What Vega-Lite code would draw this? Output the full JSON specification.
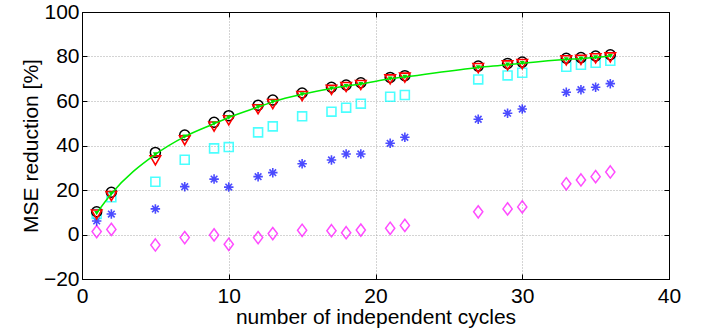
{
  "$schema": "https://vega.github.io/schema/vega-lite/v6.json",
  "width": 587,
  "height": 267,
  "autosize": {"type": "none"},
  "padding": {"left": 82, "top": 12, "right": 42, "bottom": 51},
  "background": "white",
  "config": {
    "view": {"stroke": "black", "strokeWidth": 1},
    "font": "Liberation Sans",
    "axis": {
      "domainColor": "black",
      "domainWidth": 1,
      "tickColor": "black",
      "tickSize": -5,
      "tickWidth": 1,
      "labelFontSize": 21,
      "labelColor": "black",
      "labelFont": "Liberation Sans",
      "labelFlush": false,
      "labelOverlap": false,
      "titleFont": "Liberation Sans",
      "titleFontSize": 21,
      "titleFontWeight": "normal",
      "titleColor": "black",
      "gridColor": "#a8a8a8",
      "gridDash": [1, 2],
      "gridWidth": 1
    }
  },
  "datasets": {
    "pts": [
      {"x":1,"s":"c","y":10.2},{"x":2,"s":"c","y":19},{"x":5,"s":"c","y":36.9},{"x":7,"s":"c","y":44.7},{"x":9,"s":"c","y":50.4},{"x":10,"s":"c","y":53.4},{"x":12,"s":"c","y":58.1},{"x":13,"s":"c","y":60.4},{"x":15,"s":"c","y":63.6},{"x":17,"s":"c","y":66.2},{"x":18,"s":"c","y":67.2},{"x":19,"s":"c","y":68.2},{"x":21,"s":"c","y":70.6},{"x":22,"s":"c","y":71.4},{"x":27,"s":"c","y":75.7},{"x":29,"s":"c","y":76.9},{"x":30,"s":"c","y":77.5},{"x":33,"s":"c","y":79.2},{"x":34,"s":"c","y":79.5},{"x":35,"s":"c","y":80.2},{"x":36,"s":"c","y":80.8},
      {"x":1,"s":"t","y":9},{"x":2,"s":"t","y":17.3},{"x":5,"s":"t","y":33.3},{"x":7,"s":"t","y":42.3},{"x":9,"s":"t","y":48.5},{"x":10,"s":"t","y":51.3},{"x":12,"s":"t","y":56.3},{"x":13,"s":"t","y":58.6},{"x":15,"s":"t","y":62.2},{"x":17,"s":"t","y":65},{"x":18,"s":"t","y":66.3},{"x":19,"s":"t","y":67.2},{"x":21,"s":"t","y":69.7},{"x":22,"s":"t","y":70.5},{"x":27,"s":"t","y":74.8},{"x":29,"s":"t","y":76},{"x":30,"s":"t","y":76.6},{"x":33,"s":"t","y":78.3},{"x":34,"s":"t","y":78.5},{"x":35,"s":"t","y":79.2},{"x":36,"s":"t","y":79.6},
      {"x":1,"s":"g","y":9.6},{"x":2,"s":"g","y":18.3},{"x":5,"s":"g","y":36},{"x":7,"s":"g","y":44},{"x":9,"s":"g","y":49.8},{"x":10,"s":"g","y":52.6},{"x":12,"s":"g","y":57.3},{"x":13,"s":"g","y":59.6},{"x":15,"s":"g","y":63},{"x":17,"s":"g","y":65.6},{"x":18,"s":"g","y":66.7},{"x":19,"s":"g","y":67.6},{"x":21,"s":"g","y":70},{"x":22,"s":"g","y":70.8},{"x":27,"s":"g","y":75.1},{"x":29,"s":"g","y":76.3},{"x":30,"s":"g","y":77},{"x":33,"s":"g","y":78.7},{"x":34,"s":"g","y":79},{"x":35,"s":"g","y":79.6},{"x":36,"s":"g","y":80.2},
      {"x":1,"s":"q","y":9.2},{"x":2,"s":"q","y":16.7},{"x":5,"s":"q","y":23.7},{"x":7,"s":"q","y":33.6},{"x":9,"s":"q","y":38.7},{"x":10,"s":"q","y":39.3},{"x":12,"s":"q","y":45.9},{"x":13,"s":"q","y":48.6},{"x":15,"s":"q","y":53.1},{"x":17,"s":"q","y":55.2},{"x":18,"s":"q","y":57},{"x":19,"s":"q","y":58.8},{"x":21,"s":"q","y":61.9},{"x":22,"s":"q","y":62.7},{"x":27,"s":"q","y":69.7},{"x":29,"s":"q","y":71.5},{"x":30,"s":"q","y":72.7},{"x":33,"s":"q","y":75.4},{"x":34,"s":"q","y":76.3},{"x":35,"s":"q","y":77.2},{"x":36,"s":"q","y":78.1},
      {"x":1,"s":"a","y":6.1},{"x":2,"s":"a","y":9.2},{"x":5,"s":"a","y":11.5},{"x":7,"s":"a","y":21.5},{"x":9,"s":"a","y":24.9},{"x":10,"s":"a","y":21.3},{"x":12,"s":"a","y":26},{"x":13,"s":"a","y":27.8},{"x":15,"s":"a","y":31.8},{"x":17,"s":"a","y":33.5},{"x":18,"s":"a","y":36.2},{"x":19,"s":"a","y":36.2},{"x":21,"s":"a","y":41},{"x":22,"s":"a","y":43.7},{"x":27,"s":"a","y":51.8},{"x":29,"s":"a","y":54.5},{"x":30,"s":"a","y":56.4},{"x":33,"s":"a","y":63.9},{"x":34,"s":"a","y":65.1},{"x":35,"s":"a","y":66.2},{"x":36,"s":"a","y":67.8},
      {"x":1,"s":"d","y":1.3},{"x":2,"s":"d","y":2.3},{"x":5,"s":"d","y":-4.7},{"x":7,"s":"d","y":-1.4},{"x":9,"s":"d","y":-0.2},{"x":10,"s":"d","y":-4.4},{"x":12,"s":"d","y":-1.4},{"x":13,"s":"d","y":0.4},{"x":15,"s":"d","y":1.9},{"x":17,"s":"d","y":1.7},{"x":18,"s":"d","y":0.8},{"x":19,"s":"d","y":2},{"x":21,"s":"d","y":2.8},{"x":22,"s":"d","y":4.1},{"x":27,"s":"d","y":10.2},{"x":29,"s":"d","y":11.5},{"x":30,"s":"d","y":12.4},{"x":33,"s":"d","y":22.8},{"x":34,"s":"d","y":24.5},{"x":35,"s":"d","y":26},{"x":36,"s":"d","y":28.1}
    ]
  },
  "data": {"name": "pts"},
  "resolve": {"axis": {"x": "independent", "y": "independent"}},
  "layer": [
    {
      "transform": [{"filter": "datum.s === 'd'"}],
      "mark": {"type": "point", "shape": "M0,-1L0.75,0L0,1L-0.75,0Z", "filled": false, "stroke": "#ff00ff", "strokeWidth": 1.5, "size": 150},
      "encoding": {
        "x": {"field": "x", "type": "quantitative", "scale": {"domain": [0, 40], "nice": false},
              "axis": {"orient": "bottom", "values": [0, 10, 20, 30, 40], "grid": true, "labelPadding": 11, "title": "number of independent cycles", "titlePadding": 0}},
        "y": {"field": "y", "type": "quantitative", "scale": {"domain": [-20, 100], "nice": false},
              "axis": {"orient": "left", "values": [-20, 0, 20, 40, 60, 80, 100], "grid": true, "labelPadding": 8, "title": "MSE reduction [%]", "titlePadding": 2}}
      }
    },
    {
      "transform": [{"filter": "datum.s === 'a'"}],
      "mark": {"type": "point", "shape": "M0,-1L0,1M-1,0L1,0M-0.7,-0.7L0.7,0.7M-0.7,0.7L0.7,-0.7", "filled": false, "stroke": "#0000ff", "strokeWidth": 1.6, "size": 90},
      "encoding": {
        "x": {"field": "x", "type": "quantitative", "axis": null},
        "y": {"field": "y", "type": "quantitative", "axis": null}
      }
    },
    {
      "transform": [{"filter": "datum.s === 'q'"}],
      "mark": {"type": "point", "shape": "square", "filled": false, "stroke": "#00ffff", "strokeWidth": 1.6, "size": 80},
      "encoding": {
        "x": {"field": "x", "type": "quantitative", "axis": null},
        "y": {"field": "y", "type": "quantitative", "axis": null}
      }
    },
    {
      "transform": [{"filter": "datum.s === 'c'"}],
      "mark": {"type": "point", "shape": "circle", "filled": false, "stroke": "#000000", "strokeWidth": 1.5, "size": 100, "opacity": 1},
      "encoding": {
        "x": {"field": "x", "type": "quantitative", "axis": null},
        "y": {"field": "y", "type": "quantitative", "axis": null}
      }
    },
    {
      "transform": [{"filter": "datum.s === 't'"}],
      "mark": {"type": "point", "shape": "triangle-down", "filled": false, "stroke": "#ff0000", "strokeWidth": 1.6, "size": 110, "opacity": 1},
      "encoding": {
        "x": {"field": "x", "type": "quantitative", "axis": null},
        "y": {"field": "y", "type": "quantitative", "axis": null}
      }
    },
    {
      "transform": [{"filter": "datum.s === 'g'"}],
      "mark": {"type": "line", "color": "#00ee00", "strokeWidth": 1.5, "interpolate": "monotone",
               "point": {"shape": "triangle-down", "filled": true, "color": "#00dd00", "size": 25, "opacity": 1}},
      "encoding": {
        "x": {"field": "x", "type": "quantitative", "axis": {"orient": "top", "values": [0, 10, 20, 30, 40], "labels": false, "title": null, "grid": false}},
        "y": {"field": "y", "type": "quantitative", "axis": {"orient": "right", "values": [-20, 0, 20, 40, 60, 80, 100], "labels": false, "title": null, "grid": false}}
      }
    }
  ]
}
